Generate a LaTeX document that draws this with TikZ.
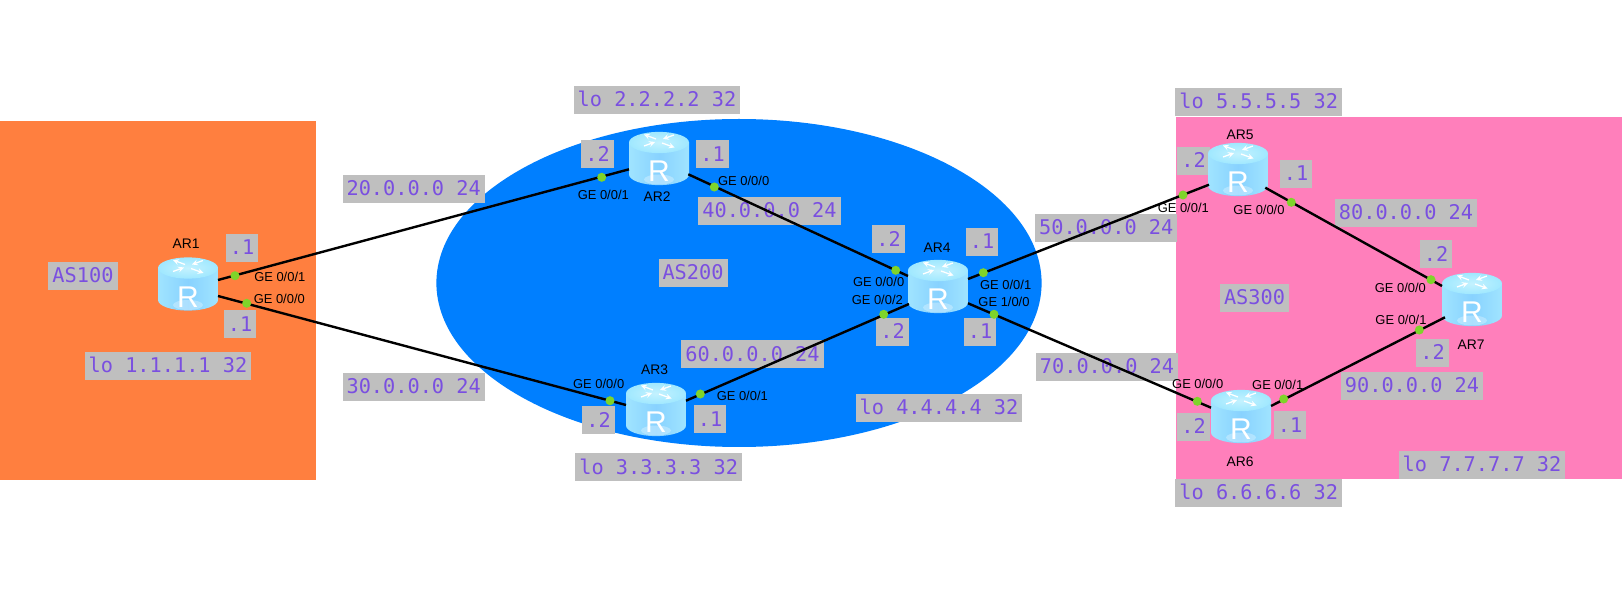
\documentclass[tikz,border=0pt]{standalone}
\usepackage{fontspec}
\setmainfont{Liberation Sans}
\newfontfamily\addrfont{DejaVu Sans Mono}
\definecolor{asorange}{HTML}{FF7F3F}
\definecolor{asblue}{HTML}{007FFF}
\definecolor{aspink}{HTML}{FF7FBB}
\definecolor{boxgray}{HTML}{BFBFBF}
\definecolor{addrpurple}{HTML}{7A4FE0}
\definecolor{portgreen}{HTML}{7FD42A}
\definecolor{bodyedge}{HTML}{A0E4FF}
\definecolor{bodymid}{HTML}{88D2FF}
\definecolor{topin}{HTML}{C4F2FF}
\definecolor{topout}{HTML}{A0E8FF}
\tikzset{
  addr/.style={fill=boxgray,text=addrpurple,inner xsep=3pt,inner ysep=0pt,minimum height=21pt,
    text height=10.4pt,text depth=0pt,font=\addrfont\fontsize{15.2}{18}\selectfont},
  ge/.style={inner sep=0pt,text=black,font=\fontsize{9.7}{11}\selectfont},
  rname/.style={inner sep=0pt,text=black,font=\fontsize{10.4}{12}\selectfont},
  link/.style={draw=black,line width=1.8pt},
  port/.style={circle,fill=portgreen,inner sep=0pt,minimum size=6.8pt},
  router/.style={rectangle,inner sep=0pt,outer sep=0pt,minimum width=45pt,minimum height=39.9pt,
    path picture={
      \begin{scope}[shift={(path picture bounding box.center)}]
        \shade[left color=bodyedge,right color=bodyedge,middle color=bodymid]
          (-30,-16) -- (-30,16) arc (180:0:30 and 10.6) -- (30,-16) -- cycle;
        \fill[white,opacity=.3] (0,21) ellipse [x radius=15,y radius=5];
        \shade[inner color=topin,outer color=topout] (0,-16) ellipse [x radius=30,y radius=10.6];
        \draw[white,line width=.95pt,-stealth] (-3,-19.5) -- (-15,-24);
        \draw[white,line width=.95pt,-stealth] (15,-23.5) -- (4,-19.5);
        \draw[white,line width=.95pt,-stealth] (-15,-12.5) -- (-4,-16.5);
        \draw[white,line width=.95pt,-stealth] (3,-15.5) -- (15.5,-11);
        \node[inner sep=0pt,text=white,font=\fontsize{22.5}{24}\selectfont] at (0,13) {R};
      \end{scope}}}
}
\begin{document}
\begin{tikzpicture}[x=0.75pt,y=-0.75pt]
\useasboundingbox (0,0) rectangle (1622,595);
\fill[white] (0,0) rectangle (1622,595);
% areas
\fill[asorange] (0,121) rectangle (315.7,480);
\fill[asblue] (739,283) ellipse [x radius=302.6,y radius=164];
\fill[aspink] (1176,116.7) rectangle (1622,478.7);
% addresses
\node[addr] (as100) at (83,275.7) {AS100};
\node[addr] (as200) at (693,273) {AS200};
\node[addr] (as300) at (1254.5,298) {AS300};
\node[addr] (n20) at (413.7,189) {20.0.0.0 24};
\node[addr] (n30) at (413.7,387) {30.0.0.0 24};
\node[addr] (n40) at (769.5,211) {40.0.0.0 24};
\node[addr] (n50) at (1106.2,228) {50.0.0.0 24};
\node[addr] (n60) at (752.5,354.3) {60.0.0.0 24};
\node[addr] (n70) at (1107,367) {70.0.0.0 24};
\node[addr] (n80) at (1406,213) {80.0.0.0 24};
\node[addr] (n90) at (1412,386) {90.0.0.0 24};
\node[addr] (lo1) at (168,366) {lo 1.1.1.1 32};
\node[addr] (lo2) at (657,100) {lo 2.2.2.2 32};
\node[addr] (lo3) at (658.7,467.3) {lo 3.3.3.3 32};
\node[addr] (lo4) at (939,408) {lo 4.4.4.4 32};
\node[addr] (lo5) at (1258.7,101.7) {lo 5.5.5.5 32};
\node[addr] (lo6) at (1258.7,493) {lo 6.6.6.6 32};
\node[addr] (lo7) at (1482,464.7) {lo 7.7.7.7 32};
\node[addr] (h1a) at (242,248) {.1};
\node[addr] (h1b) at (240,324.5) {.1};
\node[addr] (h2a) at (597.5,154.5) {.2};
\node[addr] (h2b) at (712.5,154.5) {.1};
\node[addr] (h3a) at (598.5,420.5) {.2};
\node[addr] (h3b) at (710,419.5) {.1};
\node[addr] (h4a) at (888.5,239.5) {.2};
\node[addr] (h4b) at (982,241.7) {.1};
\node[addr] (h4c) at (892.5,332) {.2};
\node[addr] (h4d) at (980,332) {.1};
\node[addr] (h5a) at (1193.5,161) {.2};
\node[addr] (h5b) at (1296,174) {.1};
\node[addr] (h6a) at (1193.5,427) {.2};
\node[addr] (h6b) at (1290,425.5) {.1};
\node[addr] (h7a) at (1436,254.5) {.2};
\node[addr] (h7b) at (1432.5,353) {.2};
% routers
\node[router] (AR1) at (188,284) {};
\node[router] (AR2) at (659,158.5) {};
\node[router] (AR3) at (656,409.5) {};
\node[router] (AR4) at (938,286.5) {};
\node[router] (AR5) at (1238,169.5) {};
\node[router] (AR6) at (1241,416.5) {};
\node[router] (AR7) at (1472,299.5) {};
% links
\draw[link] ([shift={(0,-4)}]AR1.east) -- ([shift={(0,10.8)}]AR2.west);
\draw[link] ([shift={(0,12)}]AR1.east) -- ([shift={(0,-4.5)}]AR3.west);
\draw[link] ([shift={(-.7,15.8)}]AR2.east) -- ([shift={(0,-10.5)}]AR4.west);
\draw[link] ([shift={(0,-8.8)}]AR3.east) -- ([shift={(1,17.5)}]AR4.west);
\draw[link] ([shift={(0,-7.5)}]AR4.east) -- ([shift={(1,15.2)}]AR5.west);
\draw[link] ([shift={(0,16.8)}]AR4.east) -- ([shift={(0,-8.8)}]AR6.west);
\draw[link] ([shift={(-2.7,18.2)}]AR5.east) -- ([shift={(0,-13.5)}]AR7.west);
\draw[link] ([shift={(0,-10.5)}]AR6.east) -- ([shift={(3,17.8)}]AR7.west);
% ports
\node[port] (p1a) at (235,275.7) {};
\node[port] (p1b) at (246.7,303.3) {};
\node[port] (p2a) at (601.7,177.3) {};
\node[port] (p2b) at (714.3,187) {};
\node[port] (p3a) at (610,400.7) {};
\node[port] (p3b) at (700.3,394) {};
\node[port] (p4a) at (895.7,270.3) {};
\node[port] (p4b) at (983.3,272.7) {};
\node[port] (p4c) at (883.7,314.3) {};
\node[port] (p4d) at (994,314.3) {};
\node[port] (p5a) at (1183,195) {};
\node[port] (p5b) at (1291.3,202.3) {};
\node[port] (p6a) at (1197.3,401.3) {};
\node[port] (p6b) at (1283.7,399) {};
\node[port] (p7a) at (1431,279.7) {};
\node[port] (p7b) at (1419.3,330) {};
% router names
\node[rname] (t1) at (186,243.3) {AR1};
\node[rname] (t2) at (657,197) {AR2};
\node[rname] (t3) at (654.7,369.3) {AR3};
\node[rname] (t4) at (937,248) {AR4};
\node[rname] (t5) at (1240,134.3) {AR5};
\node[rname] (t6) at (1240,462) {AR6};
\node[rname] (t7) at (1471,344.7) {AR7};
% interface names
\node[ge] (g1a) at (279.8,277.3) {GE 0/0/1};
\node[ge] (g1b) at (279.3,298.7) {GE 0/0/0};
\node[ge] (g2a) at (603.3,195.3) {GE 0/0/1};
\node[ge] (g2b) at (743.7,181) {GE 0/0/0};
\node[ge] (g3a) at (598.7,384) {GE 0/0/0};
\node[ge] (g3b) at (742.3,396) {GE 0/0/1};
\node[ge] (g4a) at (878.7,282.3) {GE 0/0/0};
\node[ge] (g4b) at (877.3,299.7) {GE 0/0/2};
\node[ge] (g4c) at (1005.7,285.3) {GE 0/0/1};
\node[ge] (g4d) at (1004,302.3) {GE 1/0/0};
\node[ge] (g5a) at (1183.3,208) {GE 0/0/1};
\node[ge] (g5b) at (1259,210) {GE 0/0/0};
\node[ge] (g6a) at (1197.7,384) {GE 0/0/0};
\node[ge] (g6b) at (1277.7,385) {GE 0/0/1};
\node[ge] (g7a) at (1400.3,287.7) {GE 0/0/0};
\node[ge] (g7b) at (1401,319.7) {GE 0/0/1};
\end{tikzpicture}
\end{document}
